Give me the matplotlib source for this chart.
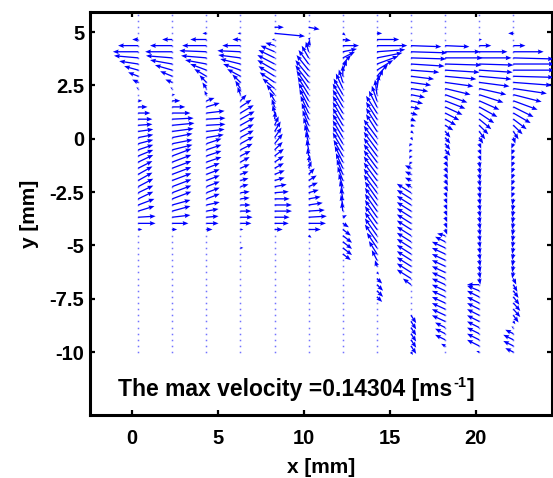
import numpy as np
import matplotlib
matplotlib.use('Agg')
import matplotlib.pyplot as plt

plt.rcParams['font.family'] = ['Liberation Sans', 'DejaVu Sans']
plt.rcParams['font.weight'] = 'bold'
plt.rcParams['axes.unicode_minus'] = False

# ---- data: measurement columns (x, mm), grid heights (y, mm), velocities (mm/s) ----
x_cols = [0.35, 2.33, 4.32, 6.30, 8.29, 10.27, 12.26, 14.25, 16.23, 18.22, 20.20, 22.19]
y_grid = np.linspace(-10.0, 5.8, 56)
max_velocity_text = "0.14304"

u1 = [0]*20 + [14, 60, 60, 56, 56, 52, 52, 52, 49, 49, 49, 52, 52, 52, 52, 52, 52, 49, 49, 42, 32, 14, 0, -7, -21, -35, -49, -66, -84, -88, -70, -21, 0, 0, 0, 0]
v1 = [0]*22 + [3, 14, 17, 20, 20, 22, 22, 22, 20, 20, 17, 14, 11, 8, 6, 3, 0, 0, 0, 0, 0, 3, 8, 11, 11, 8, 6, 0, 0, 0, 0, 0, 0, 0]

u2 = [0]*20 + [17, 56, 63, 63, 63, 66, 66, 66, 66, 66, 66, 66, 66, 70, 70, 70, 74, 77, 74, 63, 45, 28, 10, -7, -24, -42, -60, -77, -91, -94, -77, -35, 0, 0, 0, 0]
v2 = [0]*22 + [6, 14, 14, 20, 20, 20, 20, 20, 20, 20, 20, 14, 11, 11, 8, 6, 3, 0, 0, 0, 0, 3, 8, 14, 14, 11, 6, 0, 0, 0, 0, 0, 0, 0]

u3 = [0]*20 + [21, 42, 42, 42, 46, 46, 46, 46, 46, 46, 46, 52, 52, 52, 52, 60, 63, 66, 66, 63, 46, 28, -7, -14, -24, -42, -56, -74, -88, -94, -84, -56, -14, 0, 0, 0]
v3 = [0]*22 + [3, 6, 8, 14, 14, 14, 14, 14, 14, 14, 14, 14, 14, 8, 6, 3, 3, 6, 11, 8, 11, 17, 20, 20, 17, 11, 6, 3, 0, 0, 0, 0, 0, 0]

u4 = [0]*17 + [10, 0, 0, 10, 38, 42, 38, 35, 32, 32, 28, 28, 28, 32, 32, 35, 42, 46, 46, 46, 49, 49, 46, 38, 21, -10, -18, -28, -46, -60, -70, -77, -80, -63, -28, -10, 0, 0, 0]
v4 = [0]*25 + [3, 3, 6, 6, 8, 11, 14, 14, 17, 20, 20, 20, 22, 22, 22, 20, 17, 22, 22, 22, 20, 17, 14, 8, 3, 0, 0, 0, 0, 0, 0]

u5 = [0]*20 + [28, 49, 52, 60, 60, 52, 49, 42, 35, 35, 32, 32, 32, 28, 28, 24, 21, 14, 3, -7, -10, -18, -28, -42, -52, -56, -60, -60, -56, -49, -32, -10, 105, 32, 0, 0]
v5 = [0]*26 + [3, 6, 8, 11, 14, 17, 20, 22, 28, 28, 28, 25, 22, 22, 22, 25, 28, 28, 28, 28, 28, 25, 22, 17, 8, 0, -8, 0, 0, 0]

u6 = [0]*19 + [10, 42, 60, 63, 56, 49, 42, 35, 32, 28, 21, 10, 4, -4, -7, -10, -14, -18, -21, -24, -28, -32, -35, -38, -42, -46, -46, -42, -35, -24, -10, 4, 7, 0, 38, 0, 0]
v6 = [0]*19 + [-6, 0, 0, 3, 3, 6, 6, 8, 11, 14, 17, 20, 20, 22, 28, 34, 36, 39, 42, 45, 48, 50, 50, 50, 50, 48, 45, 42, 39, 34, 28, 17, 6, 0, -6, 0, 0]

u7 = [0]*16 + [28, 32, 32, 32, 28, 21, 14, -4, -7, -7, -10, -14, -18, -21, -24, -28, -32] + [-35]*9 + [-32, -24, -14, 0, 14, 28, 42, 49, 56, 28, 10, 0, 0, 0]
v7 = [0]*16 + [-17, -20, -20, -20, -17, -11, 6, 25, 28, 31, 34, 36, 39, 42, 42, 45, 45] + [48]*9 + [45, 42, 36, 31, 28, 25, 17, 8, 0, -3, -6, 0, 0, 0]

u8 = [0]*9 + [18, 21, 21, 18, 7, -7, -18, -28, -35] + [-42]*8 + [-46]*10 + [-38]*4 + [-28, -18, -7, 7, 21, 38, 56, 74, 88, 98, 105, 77, 18, 0, 0, 0]
v8 = [0]*9 + [-14, -17, -17, -14, -6, 17, 28, 36, 42] + [48]*8 + [50]*10 + [48]*4 + [45, 42, 42, 39, 36, 34, 28, 22, 14, 6, 0, 0, 0, 0, 0, 0]

u9 = [7] + [18]*6 + [0]*4 + [-28] + [-49]*15 + [-21]*4 + [-7]*4 + [7, 10, 14, 18, 24, 32, 42, 49, 60, 70, 80, 98, 116, 122, 126, 105, 0, 0, 0, 0, 0]
v9 = [-8] + [-22]*6 + [0]*4 + [17] + [25]*15 + [8]*4 + [-8]*4 + [-8, -6, -3, -6, -6, -6, -8, -8, -8, -8, -8, -6, -6, -3, -3, -3, 0, 0, 0, 0, 0]

u10 = [0, -14, -35, -35, -35] + [-46]*13 + [-35, -28] + [7]*7 + [10]*6 + [18]*4 + [28, 38, 49, 60, 70, 77, 88, 98, 108, 119, 126, 130, 122, 84, 0, 0, 0, 0, 0]
v10 = [0, 6, 14, 14, 14] + [17]*13 + [14, 6] + [-14]*7 + [-14]*6 + [-17]*4 + [-14, -17, -20, -22, -22, -22, -17, -11, -8, -6, -3, 0, 0, -3, 0, 0, 0, 0, 0]

u11 = [-10] + [-42]*10 + [-42] + [4]*20 + [7]*3 + [14, 21, 32, 42, 52, 63, 70, 84, 94, 105, 112, 116, 119, 112, 98, 42, 10, 0, 0, 0, 0]
v11 = [3] + [17]*9 + [14, 0] + [-17]*20 + [-14]*3 + [-17, -22, -25, -28, -28, -28, -25, -22, -17, -11, -8, -6, -3, 0, 0, 0, 0, 0, 0, 0, 0]

u12 = [-28, -35, -35, -28, -7, 7, 18, 24, 24, 21, 18, 14, 10] + [-4]*13 + [-7]*9 + [7, 18, 32, 46, 60, 70, 84, 98, 116, 133, 140, 143, 143, 140, 105, 42, 0, -18, 0, 0, 0]
v12 = [11, 14, 14, 11, 3, -8, -20, -22, -22, -22, -20, -20, -17] + [-17]*13 + [-14]*9 + [-17, -22, -25, -28, -28, -28, -25, -20, -14, -8, -3, 0, 0, -3, 0, 0, 0, 0, 0, 0, 0]

u_cols = [u1, u2, u3, u4, u5, u6, u7, u8, u9, u10, u11, u12]
v_cols = [v1, v2, v3, v4, v5, v6, v7, v8, v9, v10, v11, v12]

for k, (uu, vv) in enumerate(zip(u_cols, v_cols)):
    assert len(uu) == 56, (k, 'u', len(uu))
    assert len(vv) == 56, (k, 'v', len(vv))

# ---- figure ----
fig = plt.figure(figsize=(5.53, 4.78), dpi=100)
ax = fig.add_axes([90/553, 1-415/478, 462/553, 403/478])

for x0, uu, vv in zip(x_cols, u_cols, v_cols):
    X = np.full(len(y_grid), x0)
    U = np.array(uu, dtype=float)
    V = np.array(vv, dtype=float)
    ax.plot(X, y_grid, ls='none', marker='s', ms=1.1, mew=0,
            color=(0.45, 0.45, 1.0), zorder=2)
    m = (U != 0) | (V != 0)
    ax.quiver(X[m], y_grid[m], U[m], V[m], angles='xy', scale_units='xy',
              scale=59.5, color='blue', width=0.0028, headwidth=3.6,
              headlength=4.5, headaxislength=4.0, pivot='tail', zorder=3)

ax.set_xlim(-2.46, 24.44)
ax.set_ylim(-12.95, 5.94)
ax.set_xticks([0, 5, 10, 15, 20])
ax.set_yticks([-10, -7.5, -5, -2.5, 0, 2.5, 5])
ax.set_yticklabels(['-10', '-7.5', '-5', '-2.5', '0', '2.5', '5'])
ax.tick_params(direction='in', length=3.5, width=1.6, top=True, right=True,
               labelsize=14.5)
ax.tick_params(axis='x', pad=10)
ax.tick_params(axis='y', pad=4)
for s in ax.spines.values():
    s.set_linewidth(2.2)

ax.set_xlabel('x [mm]', fontsize=15, fontweight='bold', labelpad=7)
ax.set_ylabel('y [mm]', fontsize=15, fontweight='bold', labelpad=8)

# annotation with a MATLAB-style superscript "-1"
t_main = ax.text(-0.83, -12.07, 'The max velocity =' + max_velocity_text + ' [ms',
                 fontsize=16.5, fontweight='bold', ha='left', va='baseline')
t_sup = ax.annotate('-1', xy=(1.0, 1.0), xycoords=t_main, xytext=(0.5, 1.5),
                    textcoords='offset points', fontsize=10.5, fontweight='bold',
                    ha='left', va='top')
ax.annotate(']', xy=(1.0, 0.0), xycoords=(t_sup, t_main), xytext=(0.5, 0),
            textcoords='offset points', fontsize=16.5, fontweight='bold',
            ha='left', va='bottom')

fig.savefig('out.png', dpi=100)
